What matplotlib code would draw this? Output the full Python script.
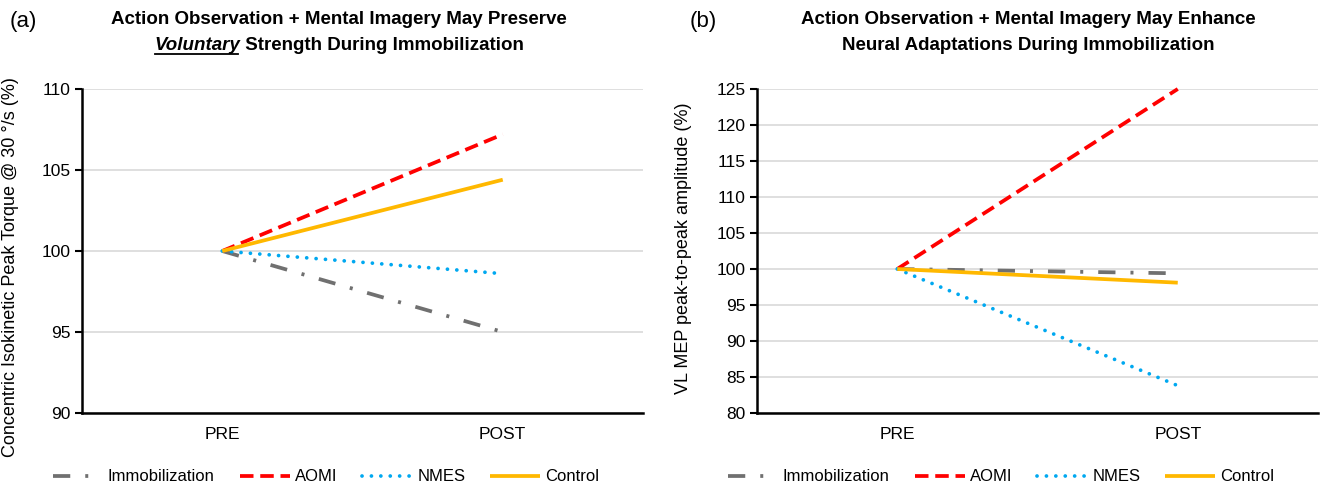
import matplotlib
matplotlib.use("Agg")
import matplotlib.pyplot as plt
from matplotlib.lines import Line2D

plt.rcParams['font.family'] = ['Liberation Sans', 'DejaVu Sans']

categories = ['PRE', 'POST']
groups = ['Immobilization', 'AOMI', 'NMES', 'Control']

# panel (a): peak torque (%)
torque_immob = [100, 95.0]
torque_aomi = [100, 107.2]
torque_nmes = [100, 98.6]
torque_control = [100, 104.4]

# panel (b): MEP amplitude (%)
mep_immob = [100, 99.4]
mep_aomi = [100, 125.0]
mep_nmes = [100, 83.8]
mep_control = [100, 98.1]

colors = {'Immobilization': '#707070', 'AOMI': '#ff0000',
          'NMES': '#00a8f0', 'Control': '#ffb800'}
styles = {
    'Immobilization': dict(dashes=(4.6, 4, 0.8, 4), dash_capstyle='butt'),
    'AOMI': dict(dashes=(3.6, 1.8), dash_capstyle='butt'),
    'NMES': dict(dashes=(0.01, 2.5), dash_capstyle='round'),
    'Control': dict(linestyle='-', solid_capstyle='butt'),
}

W, H = 1320, 486
fig = plt.figure(figsize=(W / 100, H / 100), dpi=100)
ax1 = fig.add_axes([82 / W, 1 - 413 / H, 561 / W, 324 / H])
ax2 = fig.add_axes([757 / W, 1 - 413 / H, 561 / W, 324 / H])


def draw(ax, series, ylim, step, ylabel):
    x = list(range(len(categories)))
    for name, vals in zip(groups, series):
        ax.plot(x, vals, color=colors[name], lw=2.7, label=name,
                clip_on=False, **styles[name])
    ax.set_xlim(-0.5, 1.5)
    ax.set_ylim(*ylim)
    ax.set_yticks(range(ylim[0], ylim[1] + 1, step))
    ax.set_xticks(x)
    ax.set_xticklabels(categories)
    ax.grid(axis='y', color='#d9d9d9', lw=1.2)
    ax.set_axisbelow(True)
    for s in ['top', 'right']:
        ax.spines[s].set_visible(False)
    ax.spines['left'].set_linewidth(1.8)
    ax.spines['bottom'].set_linewidth(1.8)
    ax.tick_params(axis='y', length=5, width=1.5, labelsize=12.5, pad=3)
    ax.tick_params(axis='x', length=0, labelsize=12.5, pad=10)
    ax.set_ylabel(ylabel, fontsize=13)
    ax.legend(loc='upper center', bbox_to_anchor=(0.435, -0.128), ncol=4,
              frameon=False, fontsize=12, handlelength=3.0,
              handletextpad=0.3, columnspacing=1.5)


draw(ax1, [torque_immob, torque_aomi, torque_nmes, torque_control],
     (90, 110), 5, 'Concentric Isokinetic Peak Torque @ 30 °/s (%)')
draw(ax2, [mep_immob, mep_aomi, mep_nmes, mep_control],
     (80, 125), 5, 'VL MEP peak-to-peak amplitude (%)')
ax1.yaxis.set_label_coords(-0.112, 0.45)
ax2.yaxis.set_label_coords(-0.115, 0.51)

fig.text(10 / W, 1 - 22 / H, '(a)', fontsize=16, va='center')
fig.text(690 / W, 1 - 22 / H, '(b)', fontsize=16, va='center')

tfs = 13.5
fig.text(339 / W, 1 - 20 / H,
         'Action Observation + Mental Imagery May Preserve',
         fontsize=tfs, fontweight='bold', ha='center', va='center')
fig.text(1028 / W, 1 - 20 / H,
         'Action Observation + Mental Imagery May Enhance',
         fontsize=tfs, fontweight='bold', ha='center', va='center')
fig.text(1028 / W, 1 - 46 / H,
         'Neural Adaptations During Immobilization',
         fontsize=tfs, fontweight='bold', ha='center', va='center')

# second line of (a) title with underlined italic word
r = fig.canvas.get_renderer()
t1 = fig.text(0, 1 - 46 / H, 'Voluntary', fontsize=tfs, fontweight='bold',
              fontstyle='italic', va='center')
t2 = fig.text(0, 1 - 46 / H, ' Strength During Immobilization', fontsize=tfs,
              fontweight='bold', va='center')
w1 = t1.get_window_extent(r).width
w2 = t2.get_window_extent(r).width
x0 = 339 - (w1 + w2) / 2
t1.set_x(x0 / W)
t2.set_x((x0 + w1) / W)
uy = 1 - 54 / H
fig.add_artist(Line2D([(x0 + 1) / W, (x0 + w1 - 2) / W], [uy, uy],
                      color='black', lw=1.3, transform=fig.transFigure))

fig.savefig('out.png', dpi=100)
